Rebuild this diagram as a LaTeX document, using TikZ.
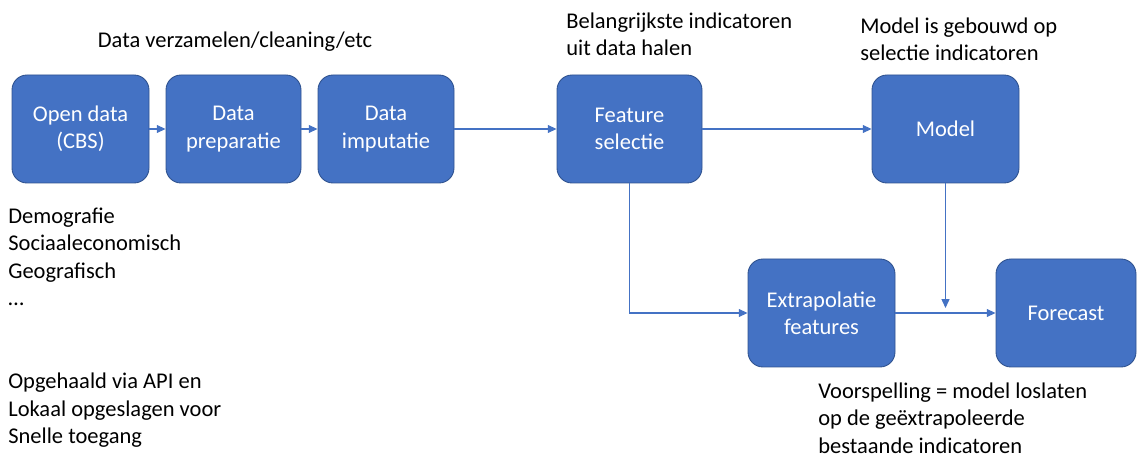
\documentclass[tikz,border=0pt]{standalone}
\usepackage{fontspec}
\setmainfont{Carlito}
\usetikzlibrary{arrows.meta,positioning}

\definecolor{boxblue}{HTML}{4472C4}
\definecolor{boxedge}{HTML}{2F528F}

\begin{document}
\begin{tikzpicture}[
		x=0.02cm,
		y=-0.02cm,
		every node/.style={
			inner sep=0pt,
			font=\fontsize{12.8}{15.6}\selectfont,
		},
		stepbox/.style={
			shape=rectangle,
			rounded corners=0.3cm,
			fill=boxblue,
			draw=boxedge,
			line width=0.5pt,
			text=white,
			align=center,
			minimum height=108*0.02cm,
		},
		note/.style={
			align=left,
			anchor=west,
		},
		flow/.style={
			draw=boxblue,
			line width=0.6pt,
			-{Triangle[length=5pt,width=4.5pt]},
		},
	]
		\useasboundingbox (0,0) rectangle (1137,459);

		% bovenste rij
		\node[stepbox, minimum width=137*0.02cm] (open) at (80.5,129) {Open data\\(CBS)};
		\node[stepbox, minimum width=135*0.02cm] (prep) at (233.5,129) {Data\\preparatie};
		\node[stepbox, minimum width=136*0.02cm] (imput) at (386,129) {Data\\imputatie};
		\node[stepbox, minimum width=145*0.02cm] (select) at (629.5,129) {Feature\\selectie};
		\node[stepbox, minimum width=147*0.02cm] (model) at (945.5,129) {Model};

		% onderste rij
		\node[stepbox, minimum width=147*0.02cm] (extra) at (821.5,313) {Extrapolatie\\features};
		\node[stepbox, minimum width=140*0.02cm] (forecast) at (1066,313) {Forecast};

		% toelichting
		\node (collect) at (235,42) {Data verzamelen/cleaning/etc};
		\node[note] (indic) at (566,34) {Belangrijkste indicatoren\\uit data halen};
		\node[note] (built) at (860,39) {Model is gebouwd op\\selectie indicatoren};
		\node[note] (themes) at (8,257) {Demografie\\Sociaaleconomisch\\Geografisch\\…};
		\node[note] (api) at (8,410.5) {Opgehaald via API en\\Lokaal opgeslagen voor\\Snelle toegang};
		\node[note] (predict) at (818,418) {Voorspelling = model loslaten\\op de geëxtrapoleerde\\bestaande indicatoren};

		% pijlen
		\draw[flow] (open) -- (prep);
		\draw[flow] (prep) -- (imput);
		\draw[flow] (imput) -- (select);
		\draw[flow] (select) -- (model);
		\draw[flow] (select.south) |- (extra.west);
		\draw[flow] (extra) -- (forecast);
		\coordinate (join) at (model.south |- 0,308);
		\draw[flow] (model.south) -- (join);
	\end{tikzpicture}
\end{document}
